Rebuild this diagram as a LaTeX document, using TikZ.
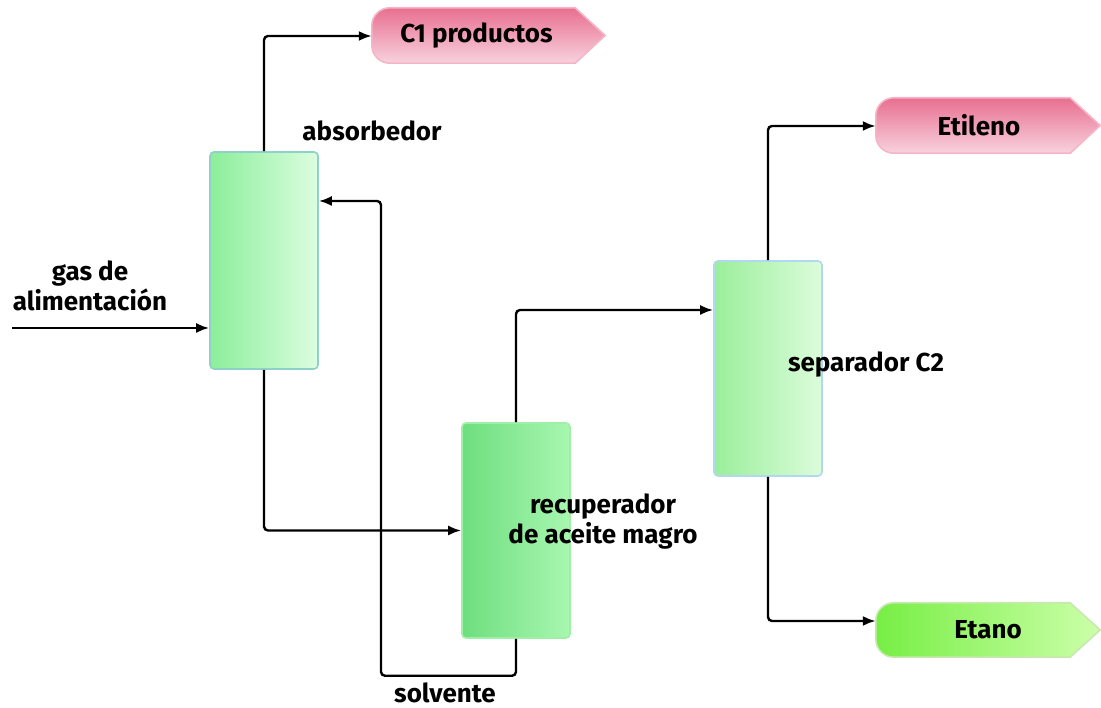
\documentclass[tikz,border=0pt]{standalone}
\usepackage{fontspec}
\setmainfont{Fira Sans}
\usetikzlibrary{arrows.meta}
\definecolor{colborderA}{HTML}{8FD0C8}
\definecolor{colborderR}{HTML}{9FEFA8}
\definecolor{colborderS}{HTML}{B0D8F0}
\definecolor{absL}{HTML}{8BEE9A}
\definecolor{absR}{HTML}{DCFDE0}
\definecolor{recL}{HTML}{6EDE7E}
\definecolor{recR}{HTML}{A8F7B0}
\definecolor{sepL}{HTML}{9AEE9A}
\definecolor{sepR}{HTML}{DCFCDC}
\definecolor{pinktop}{HTML}{E86F90}
\definecolor{pinkbot}{HTML}{F8D2DE}
\definecolor{pinkedge}{HTML}{F5B5C8}
\definecolor{greenL}{HTML}{77EE44}
\definecolor{greenR}{HTML}{CCFFAA}
\definecolor{greenedge}{HTML}{C8E8B0}
\tikzset{
  unit/.style={rectangle, rounded corners=4pt, line width=1.6pt,
    minimum width=108pt, inner sep=0pt},
  label/.style={font=\bfseries\fontsize{26}{30}\selectfont, align=center, inner sep=0pt},
  prodbox/.style={rectangle, minimum width=224pt, minimum height=55pt, inner sep=0pt},
  flow/.style={line width=2.4pt, rounded corners=4pt, -{Latex[length=13pt,width=10pt]}}
}
% pennant outline: rounded left end, pointed right end
\newcommand{\pennant}[2]{%
  \path[#2] (#1.north east) ++(-30pt,0) -- (#1.east) -- ([xshift=-30pt]#1.south east)
    -- ([xshift=18pt]#1.south west) arc[start angle=270,end angle=180,radius=18pt]
    -- ([yshift=-18pt]#1.north west) arc[start angle=180,end angle=90,radius=18pt] -- cycle;}
\begin{document}
\begin{tikzpicture}[x=1pt,y=1pt]
\useasboundingbox (0,0) rectangle (1101,708);

% process units
\node[unit, minimum height=217pt, draw=colborderA, left color=absL, right color=absR] (abs) at (264,447.5) {};
\node[unit, minimum height=215pt, draw=colborderR, left color=recL, right color=recR] (rec) at (516,177.5) {};
\node[unit, minimum height=215pt, draw=colborderS, left color=sepL, right color=sepR] (sep) at (768,339.5) {};

% product streams
\node[prodbox, minimum width=233pt] (c1) at (488.5,672.5) {};
\pennant{c1}{draw=pinkedge, line width=1.6pt, top color=pinktop, bottom color=pinkbot}
\node[label] at ([xshift=-12pt]c1.center) {C1 productos};

\node[prodbox] (etil) at (988,582.5) {};
\pennant{etil}{draw=pinkedge, line width=1.6pt, top color=pinktop, bottom color=pinkbot}
\node[label] at ([xshift=-9pt]etil.center) {Etileno};

\node[prodbox, minimum height=54pt] (etan) at (988,78) {};
\pennant{etan}{draw=greenedge, line width=1.6pt, left color=greenL, right color=greenR}
\node[label] at (etan.center) {Etano};

% labels
\node[label] (labAbs) at (372,577) {absorbedor};
\node[label] (labGas) at (90,422) {gas de\\alimentación};
\node[label] (labRec) at (603,186) {recuperador\\de aceite magro};
\node[label] (labSep) at (866,343) {separador C2};
\node[label] (labSol) at (445,15) {solvente};

% connectors
\coordinate (gasin) at (12,380);
\draw[flow] (gasin) -- (abs.west |- gasin);
\draw[flow] (abs.north) |- ([yshift=-0.5pt]c1.west);
\draw[flow] (abs.south) |- (rec.west);
\draw[flow] (rec.north) |- ([yshift=58.5pt]sep.west);
\draw[flow] (rec.south) -- ++(0,-37) -| (381,507) -- ([yshift=59.5pt]abs.east);
\draw[flow] (sep.north) |- ([yshift=-0.5pt]etil.west);
\draw[flow] (sep.south) |- ([yshift=9pt]etan.west);
\end{tikzpicture}
\end{document}
